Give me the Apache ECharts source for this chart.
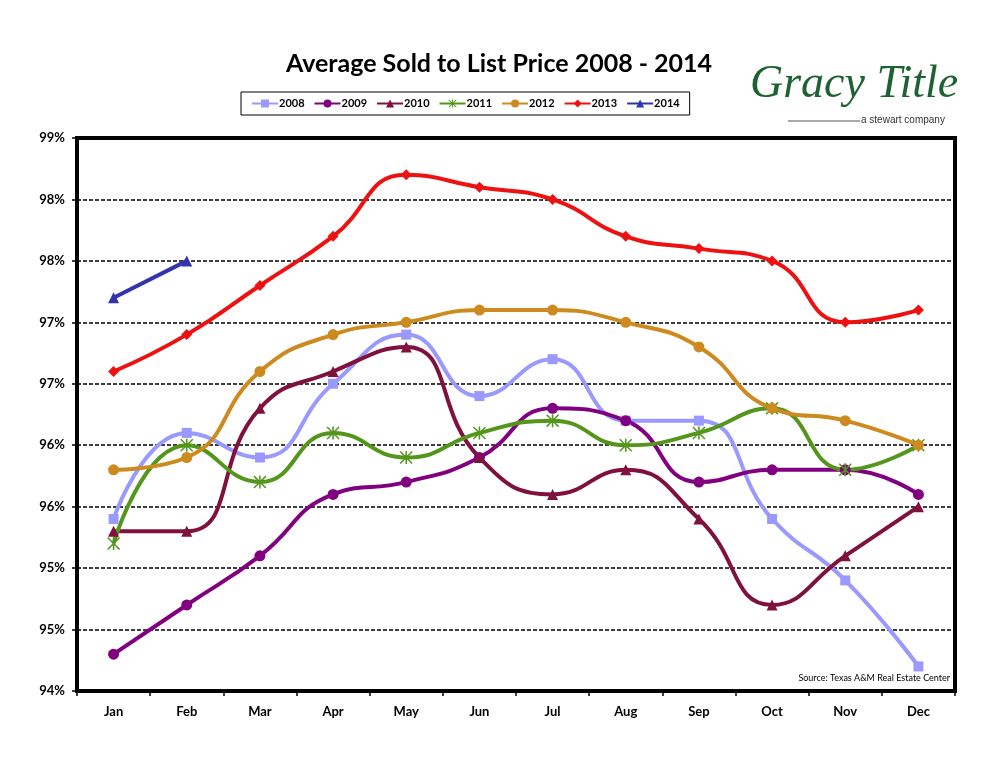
<!DOCTYPE html>
<html>
<head>
<meta charset="utf-8">
<title>Average Sold to List Price 2008 - 2014</title>
<script src="https://cdn.jsdelivr.net/npm/echarts@6/dist/echarts.min.js"></script>
<style>
    html, body { margin: 0; padding: 0; background: #fff; }
    #main { width: 994px; height: 768px; }
</style>
</head>
<body>
<div id="main"></div>
<script type="text/javascript">
    // months on the x axis
    var months = ['Jan', 'Feb', 'Mar', 'Apr', 'May', 'Jun', 'Jul', 'Aug', 'Sep', 'Oct', 'Nov', 'Dec'];
    // y tick labels, as the original prints them (rounded to whole percent)
    var yTickLabels = ['94%', '95%', '95%', '96%', '96%', '97%', '97%', '98%', '98%', '99%'];

    // average sold to list price, percent
    var y2008 = [95.4, 96.1, 95.9, 96.5, 96.9, 96.4, 96.7, 96.2, 96.2, 95.4, 94.9, 94.2];
    var y2009 = [94.3, 94.7, 95.1, 95.6, 95.7, 95.9, 96.3, 96.2, 95.7, 95.8, 95.8, 95.6];
    var y2010 = [95.3, 95.3, 96.3, 96.6, 96.8, 95.9, 95.6, 95.8, 95.4, 94.7, 95.1, 95.5];
    var y2011 = [95.2, 96.0, 95.7, 96.1, 95.9, 96.1, 96.2, 96.0, 96.1, 96.3, 95.8, 96.0];
    var y2012 = [95.8, 95.9, 96.6, 96.9, 97.0, 97.1, 97.1, 97.0, 96.8, 96.3, 96.2, 96.0];
    var y2013 = [96.6, 96.9, 97.3, 97.7, 98.2, 98.1, 98.0, 97.7, 97.6, 97.5, 97.0, 97.1];
    var y2014 = [97.2, 97.5];

    // asterisk marker like excel's star
    var starPath = 'path://M4.4 0L5.6 0L5.6 10L4.4 10Z M0 0.8L0.8 0L10 9.2L9.2 10Z M9.2 0L10 0.8L0.8 10L0 9.2Z';

    function mkSeries(name, data, color, symbol, size) {
        return {
            name: name,
            type: 'line',
            data: data,
            smooth: 0.5,
            symbol: symbol,
            symbolSize: size,
            showAllSymbol: true,
            lineStyle: { width: 4, color: color },
            itemStyle: { color: color, borderWidth: 0 },
            emphasis: { disabled: true }
        };
    }

    var myChart = echarts.init(document.getElementById('main'));
    myChart.setOption({
        backgroundColor: '#fff',
        animation: false,
        textStyle: { fontFamily: 'Lato' },
        title: {
            text: 'Average Sold to List Price 2008 - 2014',
            left: 494,
            textAlign: 'center',
            top: 46,
            textStyle: { fontFamily: 'Lato', fontSize: 25, fontWeight: 'bold', color: '#000' }
        },
        legend: {
            left: 241,
            top: 92,
            width: 452,
            padding: [6, 10, 6, 10],
            itemGap: 9,
            itemWidth: 26,
            itemHeight: 10,
            borderColor: '#000',
            borderWidth: 1,
            textStyle: { fontFamily: 'Lato', fontSize: 11, fontWeight: 'bold', color: '#000', padding: [0, 0, 0, -4] },
            data: ['2008', '2009', '2010', '2011', '2012', '2013', '2014']
        },
        grid: {
            left: 77,
            top: 138,
            right: 39,
            bottom: 77,
            show: true,
            borderColor: '#000',
            borderWidth: 4
        },
        xAxis: {
            type: 'category',
            data: months,
            boundaryGap: true,
            axisLine: { show: true, lineStyle: { color: '#000', width: 4 } },
            axisTick: { show: true, length: 5, lineStyle: { color: '#000', width: 1.5 } },
            axisLabel: { margin: 14, fontFamily: 'Lato', fontSize: 13, fontWeight: 'bold', color: '#000' },
            splitLine: { show: false }
        },
        yAxis: {
            type: 'value',
            min: 94,
            max: 98.5,
            interval: 0.5,
            axisLine: { show: true, lineStyle: { color: '#000', width: 4 } },
            axisTick: { show: true, length: 5, lineStyle: { color: '#000', width: 1.5 } },
            axisLabel: {
                margin: 12,
                fontFamily: 'Lato',
                fontSize: 13,
                fontWeight: 'bold',
                color: '#000',
                formatter: function (v) {
                    return yTickLabels[Math.round((v - 94) / 0.5)];
                }
            },
            splitLine: { show: true, lineStyle: { color: '#000', width: 1.5, type: [4, 2] } }
        },
        graphic: [
            {
                type: 'text',
                left: 750,
                top: 62,
                style: {
                    text: 'Gracy Title',
                    font: 'italic 46px "Liberation Serif"',
                    fill: '#1d6230'
                }
            },
            {
                type: 'line',
                shape: { x1: 788, y1: 121, x2: 860, y2: 121 },
                style: { stroke: '#555', lineWidth: 1 }
            },
            {
                type: 'text',
                left: 861,
                top: 115,
                style: {
                    text: 'a stewart company',
                    font: '10px "Liberation Sans"',
                    fill: '#333'
                }
            },
            {
                type: 'text',
                right: 44,
                top: 674,
                style: {
                    text: 'Source: Texas A&M Real Estate Center',
                    font: '9px "Lato"',
                    fill: '#000'
                }
            }
        ],
        series: [
            mkSeries('2008', y2008, '#9999ff', 'rect', 10),
            mkSeries('2009', y2009, '#800080', 'circle', 11),
            mkSeries('2010', y2010, '#80103c', 'triangle', 11),
            mkSeries('2011', y2011, '#54961c', starPath, 13),
            mkSeries('2012', y2012, '#cc8a1f', 'circle', 11),
            mkSeries('2013', y2013, '#ee1111', 'diamond', 11),
            mkSeries('2014', y2014, '#3333b0', 'triangle', 11)
        ]
    });
</script>
</body>
</html>
